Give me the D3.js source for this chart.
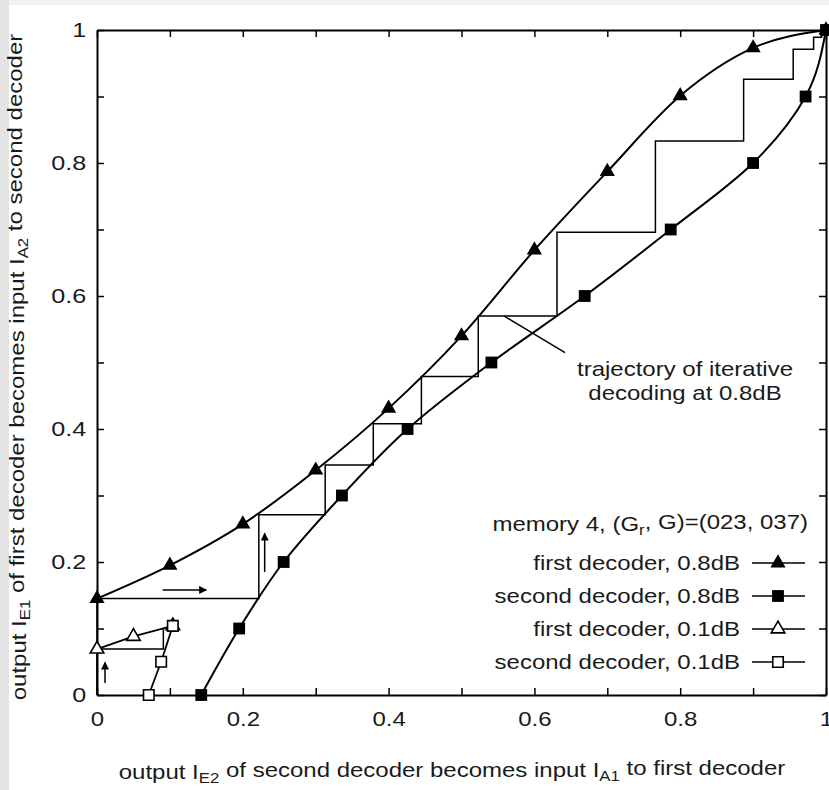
<!DOCTYPE html>
<html>
<head>
<meta charset="utf-8">
<script src="https://d3js.org/d3.v7.min.js"></script>
<style>
  body { margin: 0; background: #fff; }
  text { font-family: "Liberation Sans", Arial, Helvetica, sans-serif; fill: #1a1a1a; }
</style>
</head>
<body>
<script>
// EXIT chart data
// first decoder 0.8dB : markers at regular IA1 steps
var first08X = [0, 0.1, 0.2, 0.3, 0.4, 0.5, 0.6, 0.7, 0.8, 0.9, 1];
var first08Y = [0.145, 0.195, 0.257, 0.338, 0.431, 0.540, 0.669, 0.787, 0.901, 0.973, 1];
// second decoder 0.8dB : axes swapped, markers at regular IE1 steps
var second08X = [0.143, 0.195, 0.256, 0.336, 0.426, 0.541, 0.669, 0.787, 0.900, 0.972, 1];
var second08Y = [0, 0.1, 0.2, 0.3, 0.4, 0.5, 0.6, 0.7, 0.8, 0.9, 1];
// 0.1dB curves, they meet early
var first01X = [0, 0.05, 0.104];
var first01Y = [0.069, 0.088, 0.104];
var second01X = [0.071, 0.088, 0.104];
var second01Y = [0, 0.05, 0.104];
// decoding trajectories
var traj08X = [0, 0, 0.222, 0.222, 0.313, 0.313, 0.379, 0.379, 0.445, 0.445, 0.523, 0.523, 0.631, 0.631, 0.766, 0.766, 0.887, 0.887, 0.955, 0.955, 0.983, 0.983, 0.994, 0.994, 1];
var traj08Y = [0, 0.145, 0.145, 0.271, 0.271, 0.346, 0.346, 0.408, 0.408, 0.479, 0.479, 0.570, 0.570, 0.696, 0.696, 0.833, 0.833, 0.926, 0.926, 0.971, 0.971, 0.989, 0.989, 0.996, 1];
var traj01X = [0, 0, 0.091, 0.091];
var traj01Y = [0, 0.069, 0.069, 0.101];
// arrows [x1, y1, x2, y2]
var arrows = [[0.090, 0.158, 0.150, 0.158], [0.230, 0.185, 0.230, 0.243], [0.011, 0.018, 0.011, 0.049]];
var tickVals = [0, 0.1, 0.2, 0.3, 0.4, 0.5, 0.6, 0.7, 0.8, 0.9, 1];
var tickLabels = ["0", "", "0.2", "", "0.4", "", "0.6", "", "0.8", "", "1"];
var legendLabels = ["first decoder, 0.8dB", "second decoder, 0.8dB", "first decoder, 0.1dB", "second decoder, 0.1dB"];
var legendMarks = ["tri", "sq", "otri", "osq"];

var W = 829, H = 790;
var SX = 1.2; // text in the picture is stretched sideways

var svg = d3.select("body").append("svg")
    .attr("width", W)
    .attr("height", H);

// grey page edges
svg.append("rect").attr("x", 0).attr("y", 0).attr("width", W).attr("height", 5).attr("fill", "#f1f1f1");
svg.append("rect").attr("x", 0).attr("y", 0).attr("width", 9).attr("height", H).attr("fill", "#e4e4e4");

var x = d3.scaleLinear().domain([0, 1]).range([97, 826]);
var y = d3.scaleLinear().domain([0, 1]).range([695, 30]);

function zip(a, b) { return a.map(function(v, i) { return [v, b[i]]; }); }

// axes, ticks point inwards on all four sides
function fmt(d, i) { return tickLabels[i]; }
svg.append("g").attr("transform", "translate(0," + y(0) + ")")
  .call(d3.axisBottom(x).tickValues(tickVals).tickFormat(fmt).tickSizeInner(-7).tickSizeOuter(0).tickPadding(16))
  .call(function(g) {
    g.selectAll("text").attr("font-size", 20).attr("transform", "scale(" + SX + ",1)").attr("dy", "0.75em");
  });
svg.append("g").attr("transform", "translate(" + x(0) + ",0)")
  .call(d3.axisLeft(y).tickValues(tickVals).tickFormat(fmt).tickSizeInner(-7).tickSizeOuter(0).tickPadding(9))
  .call(function(g) {
    g.selectAll("text").attr("font-size", 21).attr("transform", "scale(" + SX + ",1)");
  });
svg.append("g").attr("transform", "translate(0," + y(1) + ")")
  .call(d3.axisTop(x).tickValues(tickVals).tickFormat("").tickSizeInner(-7).tickSizeOuter(0));
svg.append("g").attr("transform", "translate(" + x(1) + ",0)")
  .call(d3.axisRight(y).tickValues(tickVals).tickFormat("").tickSizeInner(-7).tickSizeOuter(0));
svg.selectAll(".domain").attr("stroke", "#000").attr("stroke-width", 2);
svg.selectAll(".tick line").attr("stroke", "#000").attr("stroke-width", 1.5);
svg.selectAll(".tick text").attr("fill", "#1a1a1a")
  .attr("font-family", "'Liberation Sans', Arial, sans-serif");

var lineX = d3.line().x(function(d) { return x(d[0]); }).y(function(d) { return y(d[1]); }).curve(d3.curveMonotoneX);
var lineY = d3.line().x(function(d) { return x(d[0]); }).y(function(d) { return y(d[1]); }).curve(d3.curveMonotoneY);
var lineS = d3.line().x(function(d) { return x(d[0]); }).y(function(d) { return y(d[1]); });

// curves
svg.append("path").datum(zip(first08X, first08Y)).attr("d", lineX)
  .attr("fill", "none").attr("stroke", "#000").attr("stroke-width", 2);
svg.append("path").datum(zip(second08X, second08Y)).attr("d", lineY)
  .attr("fill", "none").attr("stroke", "#000").attr("stroke-width", 2);
svg.append("path").datum(zip(first01X, first01Y)).attr("d", lineS)
  .attr("fill", "none").attr("stroke", "#000").attr("stroke-width", 1.8);
svg.append("path").datum(zip(second01X, second01Y)).attr("d", lineS)
  .attr("fill", "none").attr("stroke", "#000").attr("stroke-width", 1.8);

// trajectories
svg.append("path").datum(zip(traj08X, traj08Y)).attr("d", lineS)
  .attr("fill", "none").attr("stroke", "#000").attr("stroke-width", 1.5);
svg.append("path").datum(zip(traj01X, traj01Y)).attr("d", lineS)
  .attr("fill", "none").attr("stroke", "#000").attr("stroke-width", 1.5);

// markers
function mark(g, kind) {
  var tri = d3.symbol(d3.symbolTriangle, 100)();
  var otri = d3.symbol(d3.symbolTriangle, 80)();
  var sq = d3.symbol(d3.symbolSquare, 140)();
  var osq = d3.symbol(d3.symbolSquare, 110)();
  if (kind == "tri") g.append("path").attr("d", tri).attr("fill", "#000");
  if (kind == "sq") g.append("path").attr("d", sq).attr("fill", "#000");
  if (kind == "otri") g.append("path").attr("d", otri).attr("fill", "#fff").attr("stroke", "#000").attr("stroke-width", 1.6);
  if (kind == "osq") g.append("path").attr("d", osq).attr("fill", "#fff").attr("stroke", "#000").attr("stroke-width", 1.6);
}
function marks(xs, ys, kind) {
  svg.append("g").selectAll("g").data(zip(xs, ys)).enter().append("g")
    .attr("transform", function(d) { return "translate(" + x(d[0]) + "," + y(d[1]) + ")"; })
    .each(function() { mark(d3.select(this), kind); });
}
marks(first08X, first08Y, "tri");
marks(second08X, second08Y, "sq");
marks(first01X, first01Y, "otri");
marks(second01X, second01Y, "osq");

// arrows
svg.append("defs").append("marker")
  .attr("id", "head").attr("viewBox", "0 0 10 10").attr("refX", 9).attr("refY", 5)
  .attr("markerWidth", 6).attr("markerHeight", 5).attr("orient", "auto")
  .attr("markerUnits", "userSpaceOnUse")
  .append("path").attr("d", "M0,0 L10,5 L0,10 z").attr("fill", "#000");
d3.select("#head").attr("markerWidth", 12).attr("markerHeight", 8);
svg.append("g").selectAll("line").data(arrows).enter().append("line")
  .attr("x1", function(d) { return x(d[0]); }).attr("y1", function(d) { return y(d[1]); })
  .attr("x2", function(d) { return x(d[2]); }).attr("y2", function(d) { return y(d[3]); })
  .attr("stroke", "#000").attr("stroke-width", 1.5).attr("marker-end", "url(#head)");

// stretched text helper
function label(px, py, anchor, size, rot) {
  var t = svg.append("text")
    .attr("transform", "translate(" + px + "," + py + ")" + (rot ? " rotate(" + rot + ")" : "") + " scale(" + SX + ",1)")
    .attr("text-anchor", anchor).attr("font-size", size);
  return t;
}
function sub(t, main, s) {
  t.append("tspan").text(main);
  t.append("tspan").attr("font-size", "0.7em").attr("dy", "0.3em").text(s);
  return t.append("tspan").attr("dy", "-0.3em");
}

// annotation for the 0.8dB trajectory
svg.append("line").attr("x1", x(0.558)).attr("y1", y(0.570)).attr("x2", x(0.642)).attr("y2", y(0.515))
  .attr("stroke", "#000").attr("stroke-width", 1.5);
label(685, 376, "middle", 20).text("trajectory of iterative");
label(685, 400, "middle", 20).text("decoding at 0.8dB");

// legend
var t = label(808, 531, "end", 20);
sub(t, "memory 4, (G", "r").text(", G)=(023, 037)");
var leg = svg.append("g").selectAll("g").data(legendLabels).enter().append("g")
  .attr("transform", function(d, i) { return "translate(0," + (563 + i * 33) + ")"; });
leg.append("text").attr("x", 740 / SX).attr("y", 7).attr("text-anchor", "end").attr("font-size", 20)
  .attr("transform", "scale(" + SX + ",1)").text(function(d) { return d; });
leg.append("line").attr("x1", 752).attr("x2", 805).attr("y1", 0).attr("y2", 0)
  .attr("stroke", "#000").attr("stroke-width", 1.6);
leg.append("g").attr("transform", "translate(778,0)")
  .each(function(d, i) { mark(d3.select(this), legendMarks[i]); });

// axis titles
var xt = label(452, 779, "middle", 20);
sub(xt, "output I", "E2").text(" of second decoder becomes input I");
xt.append("tspan").attr("font-size", "0.7em").attr("dy", "0.3em").text("A1");
xt.append("tspan").attr("dy", "-0.3em").text(" to first decoder");

var yt = label(26, 367, "middle", 20, -90);
sub(yt, "output I", "E1").text(" of first decoder becomes input I");
yt.append("tspan").attr("font-size", "0.7em").attr("dy", "0.3em").text("A2");
yt.append("tspan").attr("dy", "-0.3em").text(" to second decoder");
</script>
</body>
</html>
